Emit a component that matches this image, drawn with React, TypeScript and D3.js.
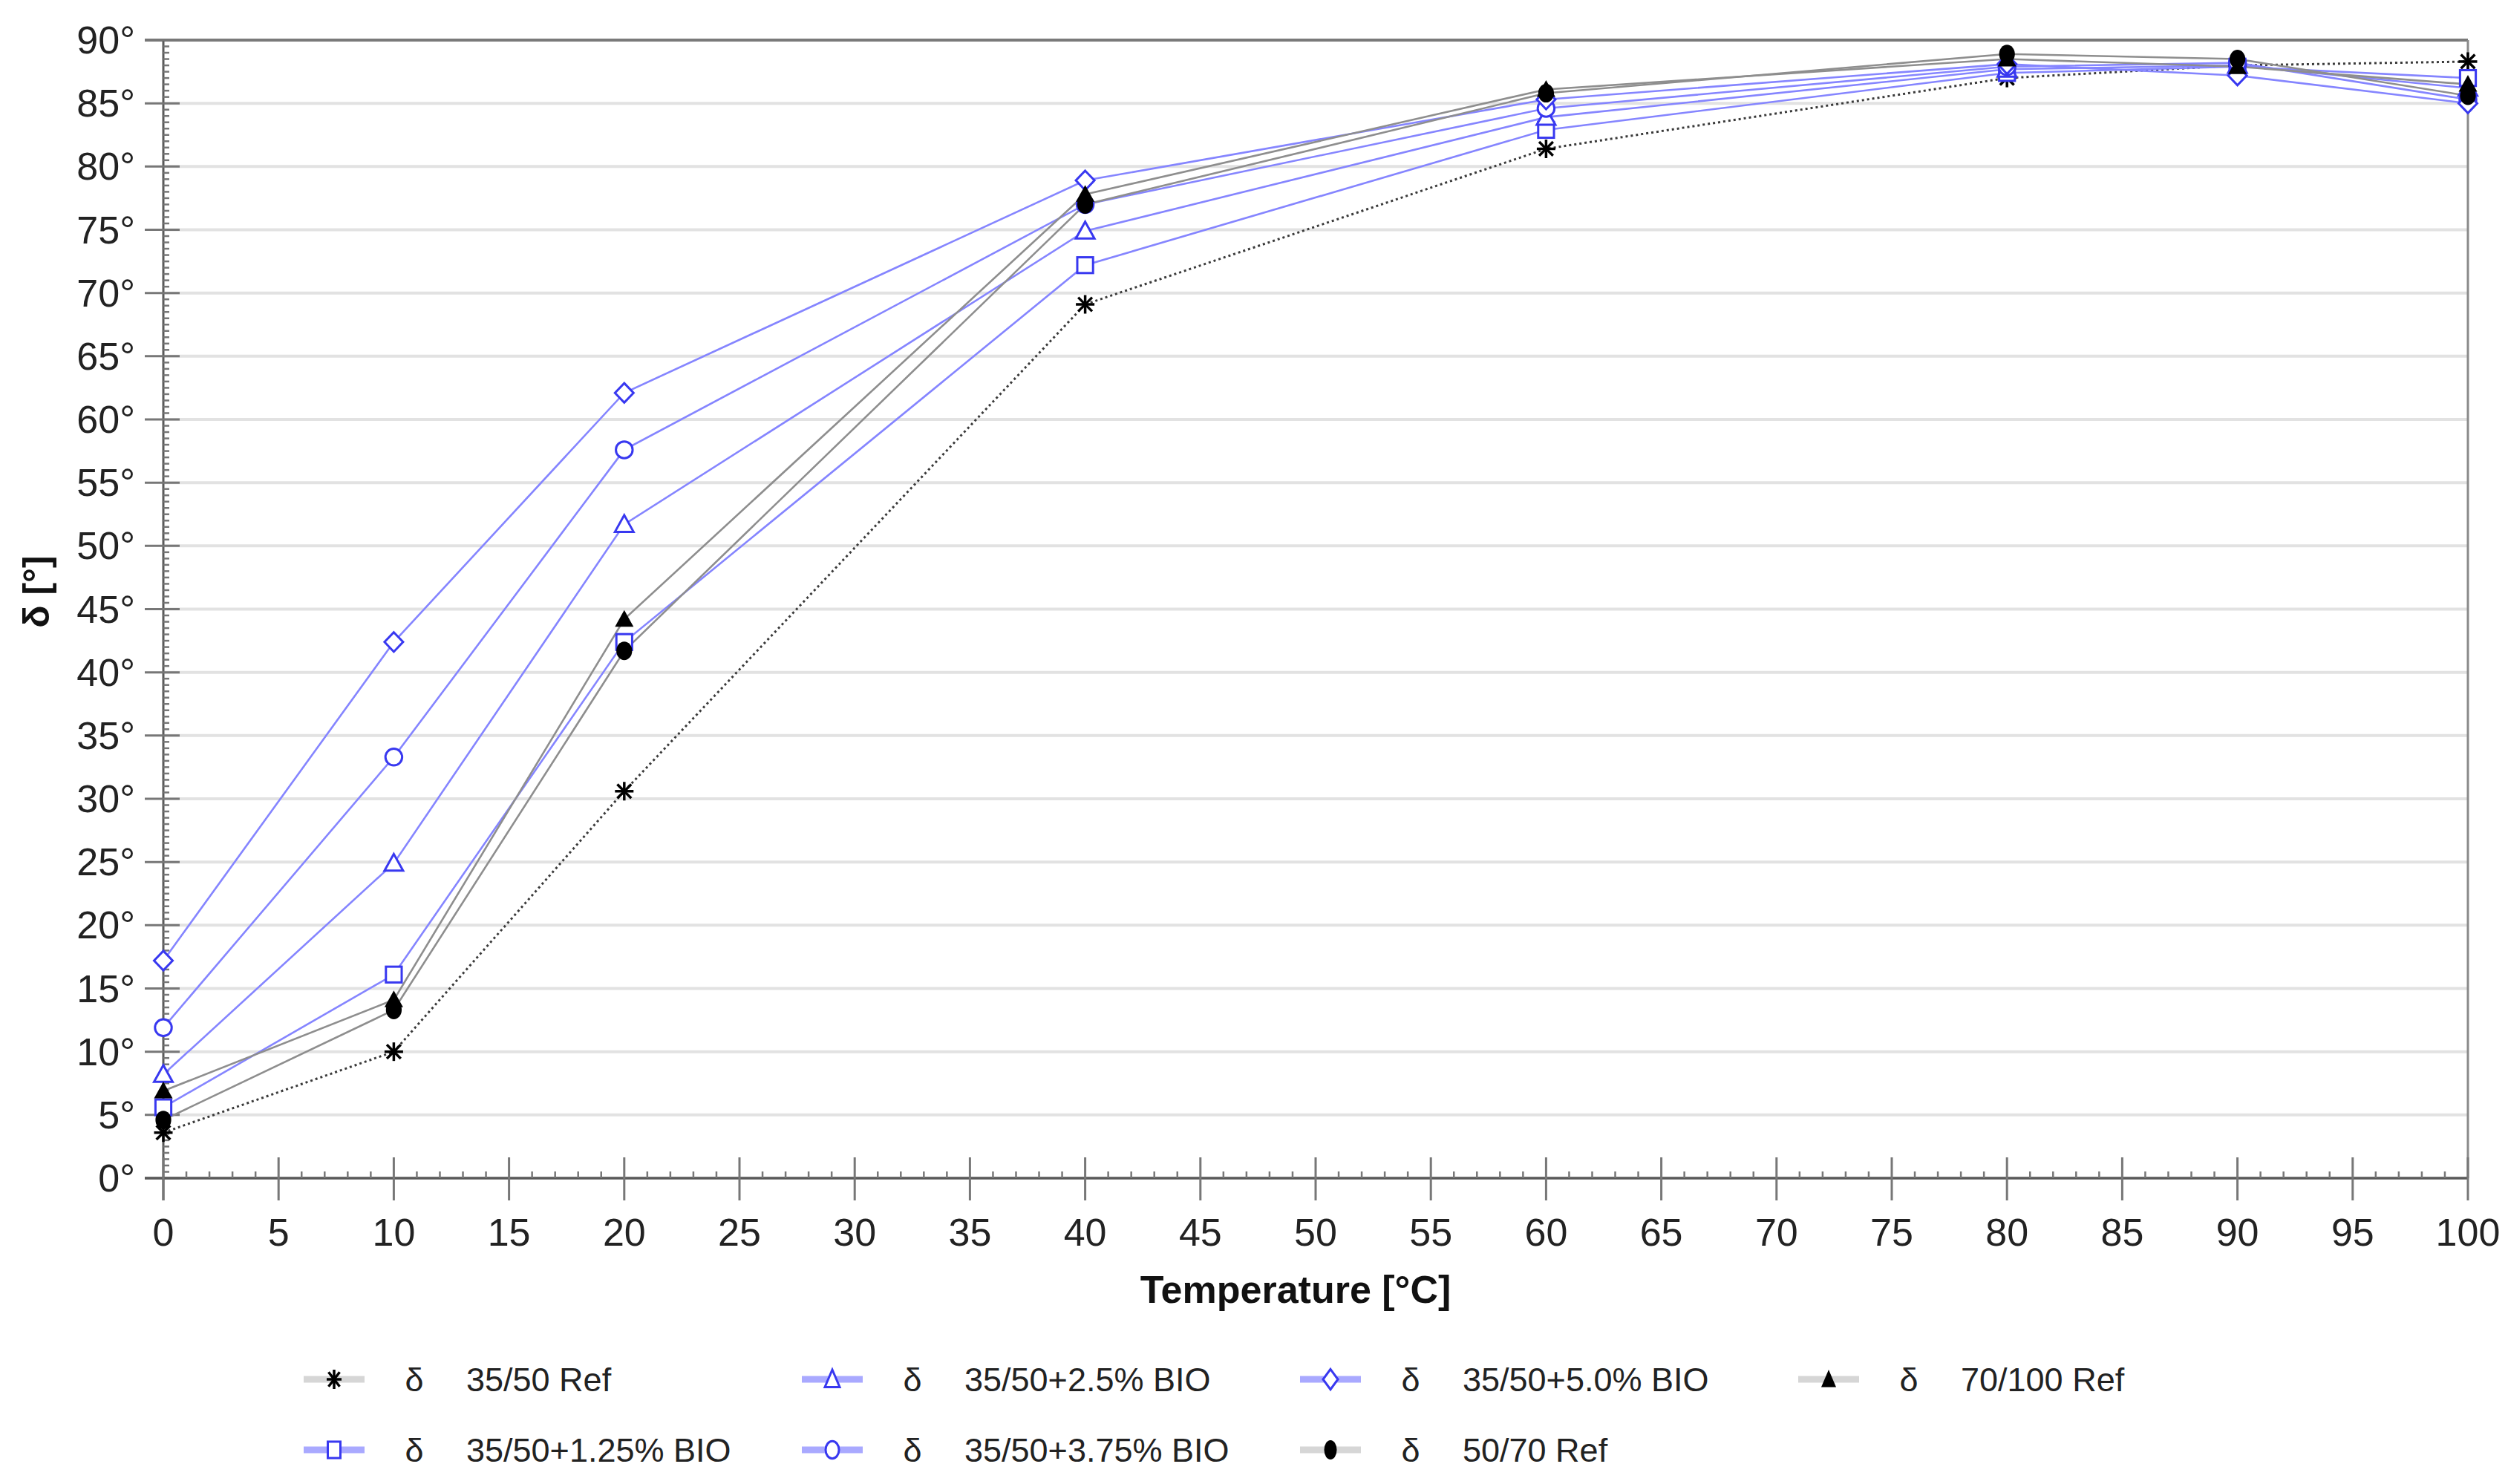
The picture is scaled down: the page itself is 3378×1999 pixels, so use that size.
import React from "react";
import * as d3 from "d3";

// ---------- data ----------
const temperatures = [0, 10, 20, 40, 60, 80, 90, 100];
const ref3550 = [3.6, 10.0, 30.6, 69.1, 81.4, 87.0, 88.0, 88.3];
const bio125 = [5.6, 16.1, 42.4, 72.2, 82.9, 87.4, 87.9, 87.0];
const bio25 = [8.2, 24.9, 51.7, 74.9, 83.9, 87.7, 88.0, 86.2];
const bio375 = [11.9, 33.3, 57.6, 77.0, 84.6, 87.9, 88.2, 85.3];
const bio50 = [17.2, 42.4, 62.1, 78.9, 85.3, 88.1, 87.2, 85.0];
const ref70100 = [6.9, 14.1, 44.2, 77.8, 86.1, 88.5, 87.9, 86.5];
const ref5070 = [4.6, 13.3, 41.7, 77.0, 85.8, 88.9, 88.5, 85.6];

const seriesNames = [
  "35/50 Ref",
  "35/50+1.25% BIO",
  "35/50+2.5% BIO",
  "35/50+3.75% BIO",
  "35/50+5.0% BIO",
  "70/100 Ref",
  "50/70 Ref",
];
const seriesValues = [ref3550, bio125, bio25, bio375, bio50, ref70100, ref5070];
const seriesMarkers = ["asterisk", "square", "triangle", "circle", "diamond", "triangleFilled", "circleFilled"];
// legend order (row-major, 4 per row)
const legendOrder = [
  "35/50 Ref",
  "35/50+2.5% BIO",
  "35/50+5.0% BIO",
  "70/100 Ref",
  "35/50+1.25% BIO",
  "35/50+3.75% BIO",
  "50/70 Ref",
];
const xTicks = d3.range(0, 101, 5);
const yTicks = d3.range(0, 91, 5);
const xTitle = "Temperature [°C]";
const yTitle = "δ [°]";
const legendSymbol = "δ";

// ---------- layout ----------
const W = 3378;
const H = 1999;
const left = 220;
const right = 3324;
const top = 54;
const bottom = 1587;

const x = d3.scaleLinear().domain([0, 100]).range([left, right]);
const y = d3.scaleLinear().domain([0, 90]).range([bottom, top]);

const BLUE_LINE = "#8585ff";
const BLUE_MARK = "#3838f0";
const GRAY_LINE = "#8e8e8e";
const AXIS = "#5a5a5a";
const FONT = "'Liberation Sans', Arial, sans-serif";

function isBlue(name: string) {
  return name.includes("BIO");
}

function Marker({ type, cx, cy, s, sy = 1 }: { type: string; cx: number; cy: number; s: number; sy?: number }) {
  const h = s / 2;
  const v = h * sy;
  const sw = 3;
  switch (type) {
    case "asterisk": {
      const d = h * 0.75;
      const dv = v * 0.75;
      return (
        <g stroke="#000" strokeWidth={3.5}>
          <line x1={cx - h} y1={cy} x2={cx + h} y2={cy} />
          <line x1={cx} y1={cy - v} x2={cx} y2={cy + v} />
          <line x1={cx - d} y1={cy - dv} x2={cx + d} y2={cy + dv} />
          <line x1={cx - d} y1={cy + dv} x2={cx + d} y2={cy - dv} />
        </g>
      );
    }
    case "square":
      return (
        <rect x={cx - h * 0.85} y={cy - v * 0.85} width={h * 1.7} height={v * 1.7} fill="#fff" stroke={BLUE_MARK} strokeWidth={sw} />
      );
    case "triangle":
      return (
        <path
          d={`M${cx},${cy - v}L${cx + h},${cy + v * 0.8}L${cx - h},${cy + v * 0.8}Z`}
          fill="#fff"
          stroke={BLUE_MARK}
          strokeWidth={sw}
        />
      );
    case "circle":
      return <ellipse cx={cx} cy={cy} rx={h * 0.9} ry={v * 0.9} fill="#fff" stroke={BLUE_MARK} strokeWidth={sw} />;
    case "diamond":
      return (
        <path
          d={`M${cx},${cy - v * 1.05}L${cx + h},${cy}L${cx},${cy + v * 1.05}L${cx - h},${cy}Z`}
          fill="#fff"
          stroke={BLUE_MARK}
          strokeWidth={sw}
        />
      );
    case "triangleFilled":
      return <path d={`M${cx},${cy - v}L${cx + h},${cy + v * 0.8}L${cx - h},${cy + v * 0.8}Z`} fill="#000" />;
    case "circleFilled":
      return <ellipse cx={cx} cy={cy} rx={h * 0.85} ry={v} fill="#000" />;
    default:
      return null;
  }
}

export default function App() {
  const line = d3
    .line<number>()
    .x((_, i) => x(temperatures[i]))
    .y((v) => y(v));

  const xMinor = d3.range(0, 101, 1).filter((v) => v % 5 !== 0);
  const yMinor = d3.range(0, 90.01, 0.5).filter((v) => v % 5 !== 0);

  const legendX0 = 450;
  const legendDX = 671;
  const legendY0 = 1858;
  const legendDY = 95;

  return (
    <svg
      width={W}
      height={H}
      viewBox={`0 0 ${W} ${H}`}
      style={{ position: "absolute", left: 0, top: 0, background: "#fff" }}
      fontFamily={FONT}
    >
      <rect x={0} y={0} width={W} height={H} fill="#fff" />
      {/* gridlines */}
      {yTicks.map((t) => (
        <line key={"g" + t} x1={left} x2={right} y1={y(t)} y2={y(t)} stroke="#e2e2e2" strokeWidth={4} />
      ))}
      {/* frame top/right */}
      <line x1={left - 25} x2={right} y1={top} y2={top} stroke="#7a7a7a" strokeWidth={4} />
      <line x1={right} x2={right} y1={top} y2={bottom} stroke="#8a8a8a" strokeWidth={3} />

      {/* y axis */}
      <line x1={left} x2={left} y1={top} y2={bottom + 30} stroke={AXIS} strokeWidth={3} />
      {yMinor.map((t) => (
        <line key={"ym" + t} x1={left} x2={left + 8} y1={y(t)} y2={y(t)} stroke="#777" strokeWidth={2.5} />
      ))}
      {yTicks.map((t) => (
        <g key={"yt" + t}>
          <line x1={left - 25} x2={left + 22} y1={y(t)} y2={y(t)} stroke="#777" strokeWidth={3} />
          <text x={182} y={y(t) + 18} textAnchor="end" fontSize={52} fill="#222">
            {t}°
          </text>
        </g>
      ))}

      {/* x axis */}
      <line x1={left - 25} x2={right} y1={bottom} y2={bottom} stroke={AXIS} strokeWidth={3.5} />
      {xMinor.map((t) => (
        <line key={"xm" + t} x1={x(t)} x2={x(t)} y1={bottom} y2={bottom - 9} stroke="#777" strokeWidth={2.5} />
      ))}
      {xTicks.map((t) => (
        <g key={"xt" + t}>
          <line x1={x(t)} x2={x(t)} y1={bottom - 28} y2={bottom + 30} stroke="#777" strokeWidth={3} />
          <text x={x(t)} y={1678} textAnchor="middle" fontSize={52} fill="#222">
            {t}
          </text>
        </g>
      ))}

      {/* titles */}
      <text x={1745} y={1755} textAnchor="middle" fontSize={52} fontWeight="bold" fill="#111">
        {xTitle}
      </text>
      <text
        transform={`translate(66,797) rotate(-90)`}
        textAnchor="middle"
        fontSize={50}
        fontWeight="bold"
        fill="#111"
      >
        {yTitle}
      </text>

      {/* series lines */}
      {seriesNames.map((name, si) => {
        const blue = isBlue(name);
        const dotted = name === "35/50 Ref";
        return (
          <path
            key={"l" + name}
            d={line(seriesValues[si]) || ""}
            fill="none"
            stroke={blue ? BLUE_LINE : dotted ? "#3a3a3a" : GRAY_LINE}
            strokeWidth={dotted ? 3 : 2.6}
            strokeDasharray={dotted ? "3 4" : undefined}
          />
        );
      })}
      {/* markers */}
      {seriesNames.map((name, si) => (
        <g key={"m" + name}>
          {seriesValues[si].map((v, i) => (
            <Marker key={i} type={seriesMarkers[si]} cx={x(temperatures[i])} cy={y(v)} s={25} />
          ))}
        </g>
      ))}

      {/* legend */}
      {legendOrder.map((name, k) => {
        const si = seriesNames.indexOf(name);
        const col = k % 4;
        const row = Math.floor(k / 4);
        const cx = legendX0 + col * legendDX;
        const cy = legendY0 + row * legendDY;
        const blue = isBlue(name);
        return (
          <g key={"lg" + name}>
            <line x1={cx - 41} x2={cx + 41} y1={cy} y2={cy} stroke={blue ? "#a9a9ff" : "#d6d6d6"} strokeWidth={9} />
            <Marker type={seriesMarkers[si]} cx={cx} cy={cy} s={20} sy={1.3} />
            <text x={cx + 108} y={cy + 16} textAnchor="middle" fontSize={45} fill="#222">
              {legendSymbol}
            </text>
            <text x={cx + 178} y={cy + 16} fontSize={45} fill="#222">
              {name}
            </text>
          </g>
        );
      })}
    </svg>
  );
}
